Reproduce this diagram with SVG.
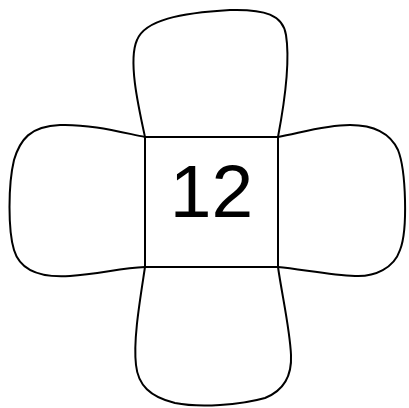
<svg xmlns="http://www.w3.org/2000/svg" width="409" height="408" viewBox="0 0 409 408">
<style>
.s{fill:none;stroke:#000;stroke-width:2;stroke-linejoin:round}
.t{font-family:"Liberation Sans",Arial,sans-serif;font-size:75px;fill:#000}
</style>
<rect width="409" height="408" fill="#fff"/>
<g id="top"><path class="s" d="M145,137 C 138,105 128,60 137,40 C 145,20 180,13 230,10 C 265,9 283,15 286,35 C 290,60 285,100 278,137"/></g>
<g id="left"><path class="s" d="M145,137 C 120,132 90,124 60,125 C 30,126 20,140 14,160 C 8,185 8,230 14,250 C 20,270 40,278 70,276 C 100,274 120,268 145,267"/></g>
<g id="right"><path class="s" d="M278,137 C 300,133 325,125 350,125 C 375,125 390,133 398,150 C 406,170 408,230 400,250 C 394,268 375,277 355,276 C 330,275 300,269 278,267"/></g>
<g id="bottom"><path class="s" d="M145,267 C 140,300 133,340 136,365 C 138,385 150,397 175,403 C 200,408 240,405 265,398 C 285,390 292,375 291,355 C 290,330 282,295 278,267"/></g>
<g id="center"><rect class="s" x="145" y="137" width="133" height="130"/><text class="t" x="211.5" y="217" text-anchor="middle">12</text></g>
</svg>
